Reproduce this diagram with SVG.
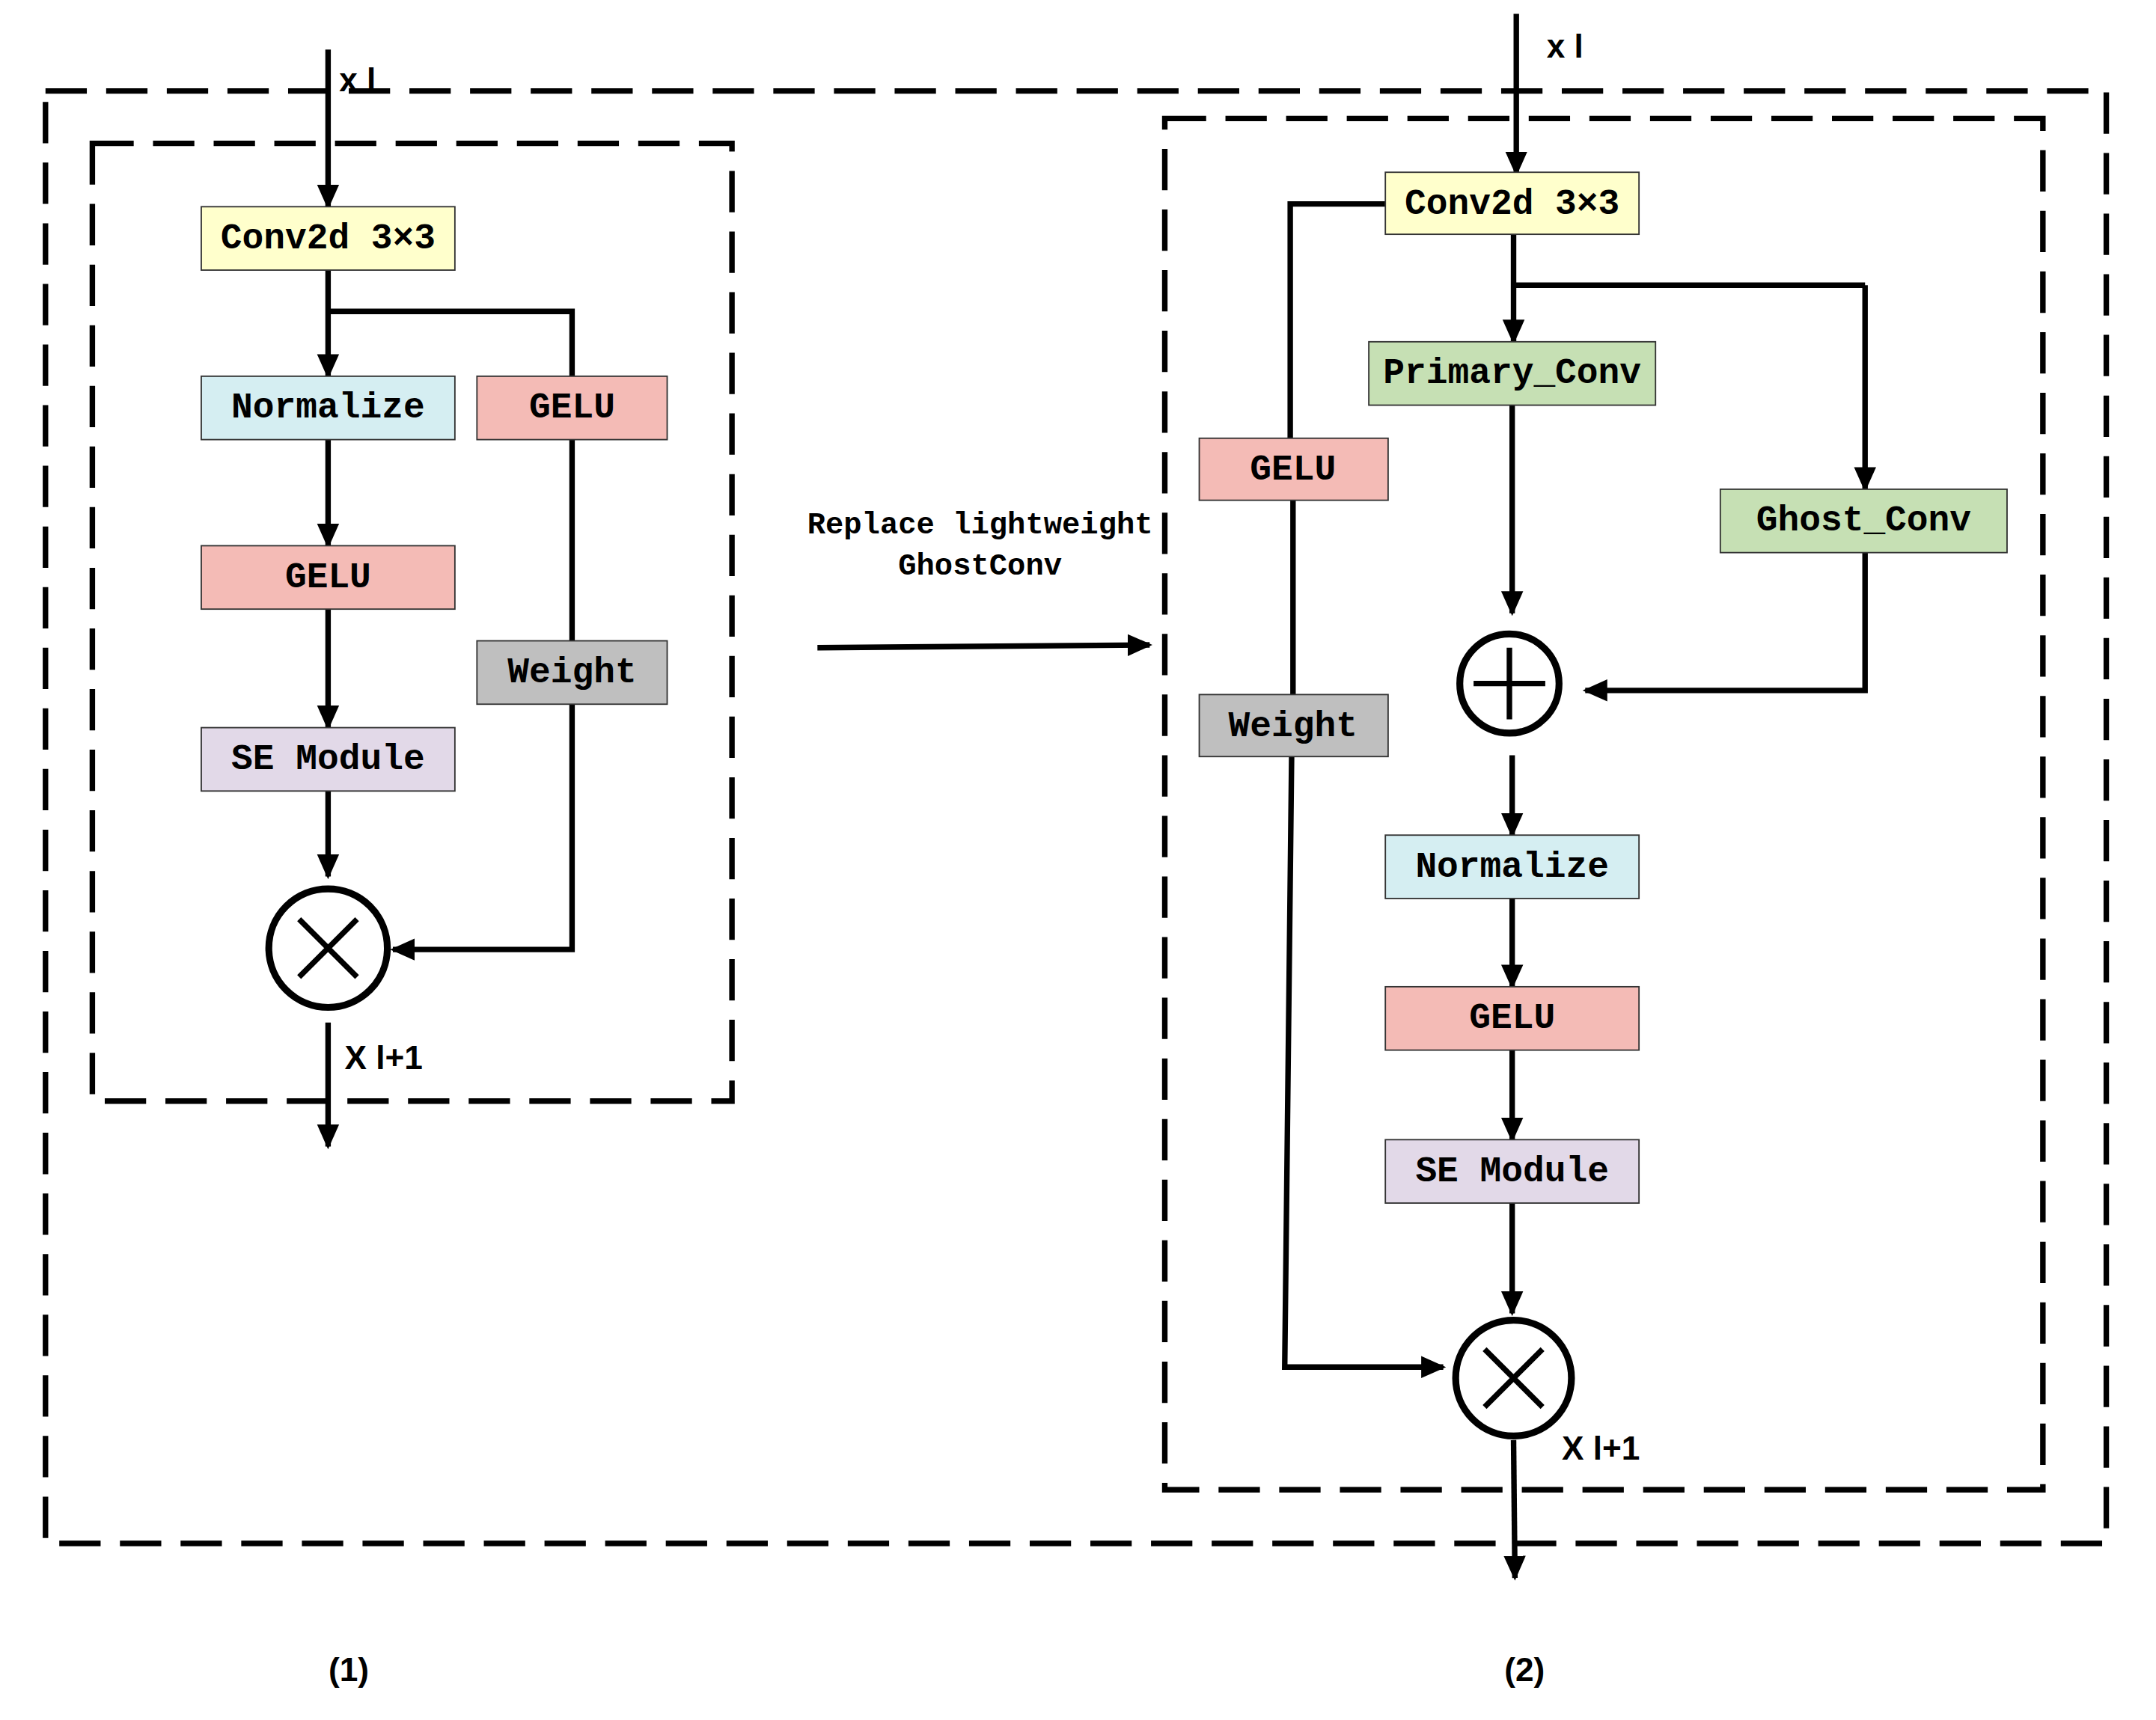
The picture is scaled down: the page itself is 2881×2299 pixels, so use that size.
<svg xmlns="http://www.w3.org/2000/svg" width="2881" height="2299" viewBox="0 0 2881 2299">
<style>
.dash{fill:none;stroke:#000;stroke-width:4;stroke-dasharray:30,14}
.box{stroke:#333;stroke-width:1}
.lbl{font-family:"Liberation Mono","Noto Sans CJK SC",monospace;font-size:26px;text-anchor:middle;dominant-baseline:central;fill:#000;font-weight:bold}
.sans{font-family:"Liberation Sans","DejaVu Sans",sans-serif;font-size:24px;font-weight:bold;fill:#000}
.ln{fill:none;stroke:#000;stroke-width:4;stroke-linejoin:miter}
.ar{fill:none;stroke:#000;stroke-width:4;marker-end:url(#ah)}
.op{fill:#fff;stroke:#000;stroke-width:5}
</style>
<defs>
<marker id="ah" markerUnits="userSpaceOnUse" markerWidth="18" markerHeight="18" refX="16" refY="9" orient="auto"><path d="M0,1 L18,9 L0,17 Z" fill="#000"/></marker>
</defs>
<rect width="2881" height="2299" fill="#fff"/>
<g transform="scale(1.842)">
<g id="frames">
<rect class="dash" x="33" y="66" width="1495" height="1054"/>
<rect class="dash" x="67" y="104" width="464" height="695"/>
<rect class="dash" x="845" y="86" width="637" height="995"/>
</g>
<g id="connectors">
<path class="ar" d="M238,36 V150"/>
<path class="ar" d="M238,196 V273"/>
<path class="ln" d="M238,226 H415 V273"/>
<path class="ar" d="M238,319 V396"/>
<path class="ar" d="M238,442 V528"/>
<path class="ln" d="M415,319 V465"/>
<path class="ar" d="M238,574 V636"/>
<path class="ar" d="M415,511 V689 H285"/>
<path class="ar" d="M238,742 V832"/>
<path class="ar" d="M593,470 L834,468"/>
<path class="ar" d="M1100,10 V126"/>
<path class="ln" d="M1005,148 H936 V318"/>
<path class="ln" d="M938,363 V504"/>
<path class="ar" d="M937,549 L932,992 H1047"/>
<path class="ar" d="M1098,170 V248"/>
<path class="ln" d="M1098,207 H1353"/>
<path class="ar" d="M1353,207 V355"/>
<path class="ar" d="M1097,294 V445"/>
<path class="ar" d="M1353,401 V501 H1150"/>
<path class="ar" d="M1097,548 V606"/>
<path class="ar" d="M1097,652 V716"/>
<path class="ar" d="M1097,762 V827"/>
<path class="ar" d="M1097,873 V953"/>
<path class="ar" d="M1098,1045 L1099,1145"/>
</g>
<g id="n-conv-l"><rect class="box" x="146" y="150" width="184" height="46" fill="#FFFFCC"/><text class="lbl" x="238" y="173">Conv2d 3×3</text></g>
<g id="n-norm-l"><rect class="box" x="146" y="273" width="184" height="46" fill="#D5EEF2"/><text class="lbl" x="238" y="296">Normalize</text></g>
<g id="n-gelu-l2"><rect class="box" x="346" y="273" width="138" height="46" fill="#F4BBB6"/><text class="lbl" x="415" y="296">GELU</text></g>
<g id="n-gelu-l"><rect class="box" x="146" y="396" width="184" height="46" fill="#F4BBB6"/><text class="lbl" x="238" y="419">GELU</text></g>
<g id="n-weight-l"><rect class="box" x="346" y="465" width="138" height="46" fill="#BFBFBF"/><text class="lbl" x="415" y="488">Weight</text></g>
<g id="n-se-l"><rect class="box" x="146" y="528" width="184" height="46" fill="#E2D9E8"/><text class="lbl" x="238" y="551">SE Module</text></g>
<g id="n-mul-l"><circle class="op" cx="238" cy="688" r="43"/><path class="ln" d="M217,667 L259,709 M259,667 L217,709" stroke-width="5"/></g>
<g id="n-conv-r"><rect class="box" x="1005" y="125" width="184" height="45" fill="#FFFFCC"/><text class="lbl" x="1097" y="148">Conv2d 3×3</text></g>
<g id="n-gelu-r2"><rect class="box" x="870" y="318" width="137" height="45" fill="#F4BBB6"/><text class="lbl" x="938" y="341">GELU</text></g>
<g id="n-weight-r"><rect class="box" x="870" y="504" width="137" height="45" fill="#BFBFBF"/><text class="lbl" x="938" y="527">Weight</text></g>
<g id="n-primary"><rect class="box" x="993" y="248" width="208" height="46" fill="#C6E0B4"/><text class="lbl" x="1097" y="271">Primary_Conv</text></g>
<g id="n-ghost"><rect class="box" x="1248" y="355" width="208" height="46" fill="#C6E0B4"/><text class="lbl" x="1352" y="378">Ghost_Conv</text></g>
<g id="n-add"><circle class="op" cx="1095" cy="496" r="36"/><path class="ln" d="M1095,470 V522 M1069,496 H1121" stroke-width="5"/></g>
<g id="n-norm-r"><rect class="box" x="1005" y="606" width="184" height="46" fill="#D5EEF2"/><text class="lbl" x="1097" y="629">Normalize</text></g>
<g id="n-gelu-r"><rect class="box" x="1005" y="716" width="184" height="46" fill="#F4BBB6"/><text class="lbl" x="1097" y="739">GELU</text></g>
<g id="n-se-r"><rect class="box" x="1005" y="827" width="184" height="46" fill="#E2D9E8"/><text class="lbl" x="1097" y="850">SE Module</text></g>
<g id="n-mul-r"><circle class="op" cx="1098" cy="1000" r="42"/><path class="ln" d="M1077,979 L1119,1021 M1119,979 L1077,1021" stroke-width="5"/></g>
<g id="labels">
<text class="sans" x="246" y="66">x l</text>
<text class="sans" x="1122" y="42">x l</text>
<text class="sans" x="250" y="776">X l+1</text>
<text class="sans" x="1133" y="1059">X l+1</text>
<text class="lbl" x="711" y="381" style="font-size:22px">Replace lightweight</text>
<text class="lbl" x="711" y="411" style="font-size:22px">GhostConv</text>
<text class="sans" x="253" y="1220" text-anchor="middle">(1)</text>
<text class="sans" x="1106" y="1220" text-anchor="middle">(2)</text>
</g>
</g>
</svg>
